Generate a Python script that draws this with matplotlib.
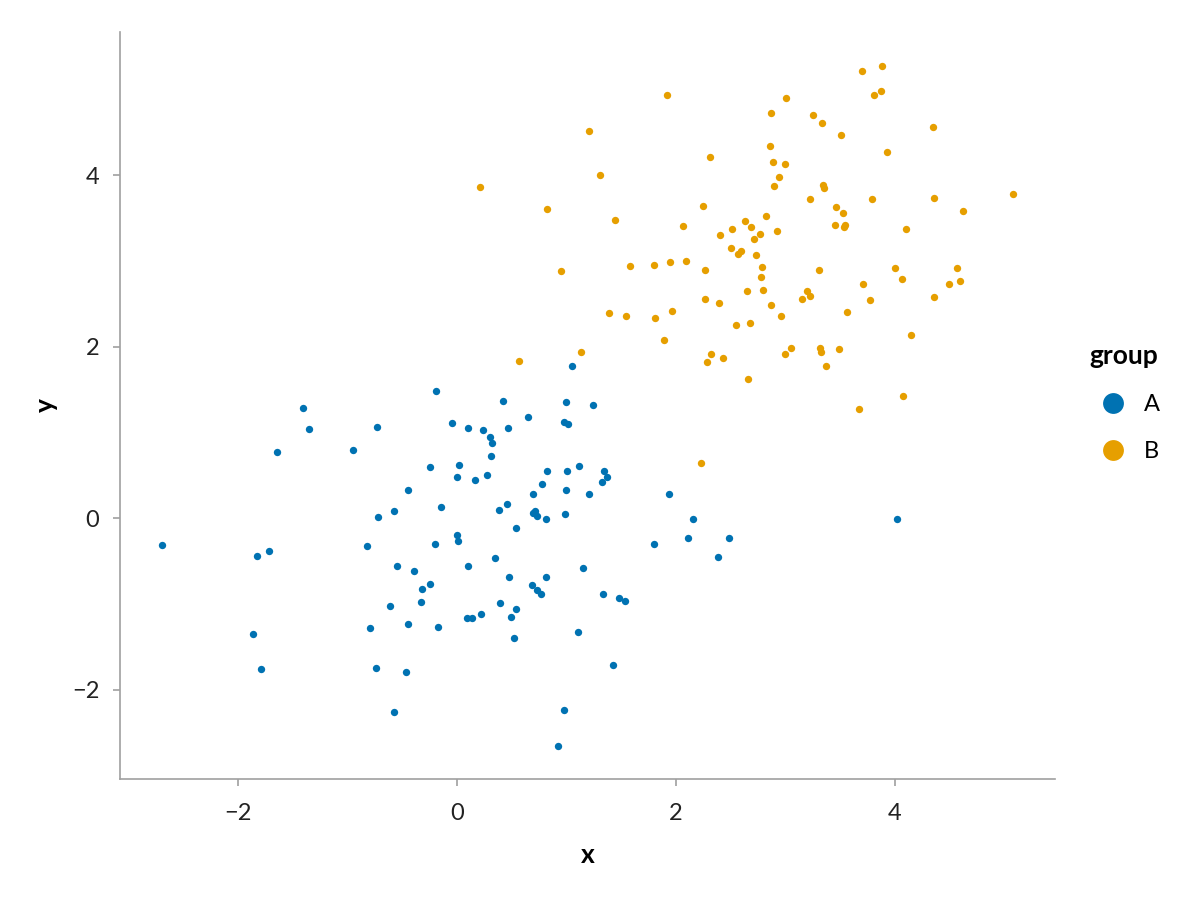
import matplotlib.pyplot as plt
from matplotlib.lines import Line2D

# group A (blue)
ax_x = [-0.195, -1.406, -1.352, -0.728, -1.644, -0.947, -0.247, -0.447, -0.575, -0.721,
        -2.691, -0.825, -0.201, -1.826, -1.720, -0.545, -0.396, -0.244, -0.317, -0.326,
        -0.615, -0.795, -0.451, -0.177, -1.860, -1.793, -0.740, -0.466, -0.575,
        1.047, 0.417, 0.992, 1.242, 0.651, -0.046, 0.100, 0.240, 0.469, 0.974,
        1.014, 0.301, 0.323, 0.314, 0.018, 0.003, 0.167, 0.274, 0.825, 1.005,
        1.111, 1.342, 1.373, 1.324, 0.776, 0.691, 0.998, 1.208, -0.143, 0.386,
        0.457, 0.697, 0.712, 0.734, 0.810, 0.983, 0.542, -0.003, 0.012, 0.104,
        0.350, 0.478, 0.816, 1.148, 0.682, 0.731, 0.770, 1.333, 1.476, 1.534,
        0.396, 0.536, 0.493, 0.091, 0.137, 0.216, 0.521, 1.102, 1.428, 0.974,
        0.919, 1.802, 1.936, 2.152, 2.113, 2.481, 2.384, 4.015]
ay_y = [1.481, 1.286, 1.034, 1.061, 0.766, 0.789, 0.595, 0.330, 0.085, 0.008,
        -0.319, -0.331, -0.307, -0.443, -0.385, -0.564, -0.618, -0.766, -0.832, -0.984,
        -1.022, -1.287, -1.240, -1.267, -1.353, -1.765, -1.753, -1.800, -2.258,
        1.776, 1.364, 1.349, 1.314, 1.182, 1.108, 1.050, 1.030, 1.046, 1.123,
        1.100, 0.948, 0.878, 0.719, 0.618, 0.474, 0.439, 0.497, 0.552, 0.548,
        0.606, 0.552, 0.478, 0.424, 0.393, 0.276, 0.323, 0.284, 0.124, 0.097,
        0.163, 0.058, 0.078, 0.027, -0.012, 0.047, -0.117, -0.198, -0.264, -0.560,
        -0.470, -0.684, -0.688, -0.579, -0.781, -0.836, -0.883, -0.883, -0.929, -0.972,
        -0.991, -1.057, -1.151, -1.162, -1.170, -1.123, -1.403, -1.333, -1.714, -2.239,
        -2.655, -0.300, 0.284, -0.008, -0.233, -0.233, -0.451, -0.016]

# group B (orange)
bx_x = [1.918, 1.208, 2.314, 1.306, 0.213, 0.822, 1.446, 2.250, 2.061, 2.399,
        2.508, 2.499, 0.953, 1.583, 1.796, 1.942, 2.088, 2.262, 2.268, 2.390,
        2.548, 1.391, 1.541, 1.805, 1.966, 1.890, 1.132, 0.563,
        3.702, 3.884, 3.814, 3.872, 3.007, 2.870, 3.251, 3.337, 3.504, 4.350,
        3.924, 2.861, 2.889, 2.998, 2.938, 2.898, 3.342, 3.349, 3.227, 3.790,
        4.356, 5.081, 4.627, 3.464, 3.522, 3.452, 3.537, 3.546, 4.100, 2.822,
        2.633, 2.688, 2.764, 2.715, 2.922, 2.563, 2.591, 2.731, 2.785, 2.773,
        3.309, 4.000, 4.566, 4.067, 4.591, 4.496, 3.711, 2.645, 2.795, 3.199,
        3.221, 3.154, 3.775, 4.362, 2.870, 2.962, 3.559, 2.679, 4.149, 2.998,
        3.053, 3.312, 3.327, 3.491, 3.367, 2.658, 4.076, 3.668, 2.320, 2.287,
        2.429, 2.231]
by_y = [4.929, 4.509, 4.214, 3.996, 3.860, 3.600, 3.479, 3.642, 3.409, 3.297,
        3.374, 3.145, 2.880, 2.939, 2.950, 2.982, 3.000, 2.888, 2.550, 2.504,
        2.254, 2.387, 2.352, 2.332, 2.410, 2.072, 1.936, 1.834,
        5.217, 5.275, 4.933, 4.980, 4.902, 4.727, 4.696, 4.606, 4.463, 4.564,
        4.272, 4.342, 4.156, 4.132, 3.977, 3.872, 3.883, 3.848, 3.717, 3.717,
        3.736, 3.778, 3.577, 3.627, 3.561, 3.413, 3.397, 3.417, 3.366, 3.522,
        3.460, 3.390, 3.308, 3.250, 3.347, 3.075, 3.117, 3.063, 2.927, 2.807,
        2.892, 2.915, 2.912, 2.787, 2.764, 2.725, 2.729, 2.651, 2.659, 2.643,
        2.592, 2.550, 2.539, 2.574, 2.480, 2.352, 2.399, 2.278, 2.138, 1.913,
        1.979, 1.986, 1.936, 1.967, 1.773, 1.617, 1.423, 1.268, 1.916, 1.823,
        1.870, 0.645]

groups = ["A", "B"]
colors = ["#0072B2", "#E69F00"]

plt.rcParams['font.family'] = ['Lato', 'DejaVu Sans']

fig = plt.figure(figsize=(12, 9), dpi=100)
ax = fig.add_axes([0.1, 0.1344, 0.779, 0.83])

ax.scatter(ax_x, ay_y, s=28, color=colors[0], linewidths=0)
ax.scatter(bx_x, by_y, s=28, color=colors[1], linewidths=0)

ax.set_xlim(-3.078, 5.461)
ax.set_ylim(-3.044, 5.668)
ax.set_xticks([-2, 0, 2, 4])
ax.set_yticks([-2, 0, 2, 4])
ax.set_xticklabels(["\u22122", "0", "2", "4"])
ax.set_yticklabels(["\u22122", "0", "2", "4"])

for s in ["top", "right"]:
    ax.spines[s].set_visible(False)
for s in ["left", "bottom"]:
    ax.spines[s].set_color("#a0a0a0")
    ax.spines[s].set_linewidth(1.2)
ax.tick_params(color="#a0a0a0", length=5, width=1.2, labelcolor="#222222",
               labelsize=17)
ax.tick_params(axis="x", pad=12)
ax.tick_params(axis="y", pad=10)

ax.set_xlabel("x", fontsize=19, fontweight="bold", labelpad=14)
ax.set_ylabel("y", fontsize=19, fontweight="bold", labelpad=10)

handles = [Line2D([], [], marker="o", linestyle="", markersize=15, color=c,
                  markeredgewidth=0) for c in colors]
leg = fig.legend(handles, groups, title="group", loc="upper left",
                 bbox_to_anchor=(0.9, 0.628), frameon=False, fontsize=17,
                 title_fontsize=19, handletextpad=0.3, labelspacing=1.1,
                 alignment="left", borderaxespad=0)
leg.get_title().set_fontweight("bold")

fig.savefig("out.png", dpi=100)
